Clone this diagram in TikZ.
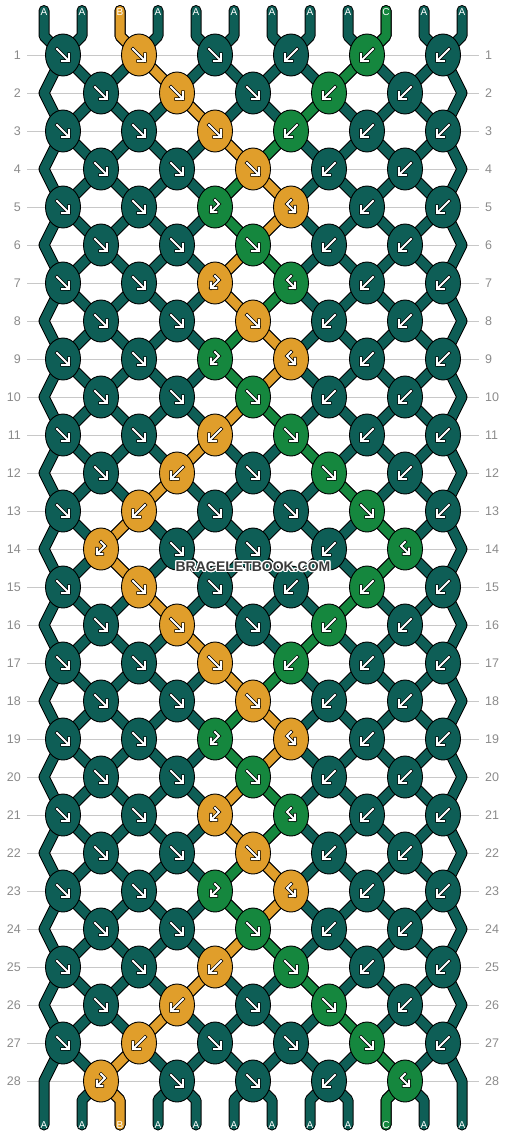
\documentclass[tikz,border=0pt]{standalone}
\usepackage{fontspec}
\setmainfont{Liberation Sans}
\usepackage{xcolor}
\usepackage{tikz}
\usepackage{contour}
\usetikzlibrary{shapes.geometric}
\contourlength{1.1pt}

\definecolor{colA}{HTML}{0E5E56}
\definecolor{colB}{HTML}{E09E2B}
\definecolor{colC}{HTML}{15873E}
\definecolor{rulegray}{HTML}{C8C8C8}
\definecolor{numgray}{HTML}{8A8A8A}
\definecolor{markgray}{HTML}{3A3A3A}

\tikzstyle{strand} = [draw=black, line width=1pt, double distance=9pt, line join=round, line cap=round]
\tikzstyle{knot} = [ellipse, draw=black, line width=0.9pt, minimum width=35pt, minimum height=42pt, inner sep=0pt]
\tikzstyle{glyph} = [draw=black, line width=0.65pt, double=white, double distance=1.9pt, line cap=rect, line join=miter]
\tikzstyle{rownum} = [text=numgray, font=\fontsize{12.5}{14}\selectfont, inner sep=0pt]
\tikzstyle{tag} = [text=white, font=\fontsize{10}{11}\selectfont, inner sep=0pt]
\tikzstyle{rowline} = [draw=rulegray, line width=1pt]

\tikzset{
  arr-f/.pic={\draw[glyph] (-6,-6) -- (5.5,5.5) (6,-1) -- (6,6) -- (-1,6);},
  arr-b/.pic={\draw[glyph] (6,-6) -- (-5.5,5.5) (-6,-1) -- (-6,6) -- (1,6);},
  arr-bf/.pic={\draw[glyph] (0,-7) -- (4,-3) -- (-4,5) (-4,-0.5) -- (-4,5) -- (1.5,5);},
  arr-fb/.pic={\draw[glyph] (0,-7) -- (-4,-3) -- (4,5) (4,-0.5) -- (4,5) -- (-1.5,5);}
}

\begin{document}
\begin{tikzpicture}[x=1pt,y=-1pt]
\useasboundingbox (0,0) rectangle (506,1136);

% knot places
\foreach \r in {1,3,...,27}
  \foreach \c in {1,...,6}
    \coordinate (k-\r-\c) at ({63+76*(\c-1)},{17+38*\r});
\foreach \r in {2,4,...,28} {
  \foreach \c in {1,...,5}
    \coordinate (k-\r-\c) at ({101+76*(\c-1)},{17+38*\r});
  \coordinate (eL-\r) at (44,{17+38*\r});
  \coordinate (eR-\r) at (462,{17+38*\r});
}
\foreach \i in {1,...,12} {
  \coordinate (t-\i) at ({6+38*\i},10.5);
  \coordinate (tb-\i) at ({6+38*\i},36);
  \coordinate (bb-\i) at ({6+38*\i},1100);
  \coordinate (b-\i) at ({6+38*\i},1125);
}

% row numbers
\foreach \r in {1,...,28} {
  \node[rownum, anchor=east] (ln-\r) at (21,{17+38*\r}) {\r};
  \node[rownum, anchor=west] (rn-\r) at (485,{17+38*\r}) {\r};
  \draw[rowline] ([xshift=6pt]ln-\r.east) -- ([xshift=-6pt]rn-\r.west);
}

% background strands
\draw[strand, double=colA]
  \foreach \c [evaluate=\c as \i using int(2*\c-1), evaluate=\c as \j using int(2*\c)] in {1,...,6} {
    (t-\i) -- (tb-\i) -- (k-1-\c) -- (tb-\j) -- (t-\j) }
  \foreach \r [evaluate=\r as \s using int(\r+1)] in {1,3,...,27} {
    \foreach \c [evaluate=\c as \d using int(\c+1)] in {1,...,5} {
      (k-\r-\c) -- (k-\s-\c) -- (k-\r-\d) } }
  \foreach \r [evaluate=\r as \s using int(\r+1)] in {2,4,...,26} {
    \foreach \c [evaluate=\c as \d using int(\c+1)] in {1,...,5} {
      (k-\s-\c) -- (k-\r-\c) -- (k-\s-\d) } }
  (k-1-1) \foreach \r [evaluate=\r as \s using int(\r+1)] in {2,4,...,26} { -- (eL-\r) -- (k-\s-1) } -- (eL-28) -- (b-1)
  (k-1-6) \foreach \r [evaluate=\r as \s using int(\r+1)] in {2,4,...,26} { -- (eR-\r) -- (k-\s-6) } -- (eR-28) -- (b-12)
  \foreach \c [evaluate=\c as \i using int(2*\c), evaluate=\c as \j using int(2*\c+1)] in {1,...,5} {
    (b-\i) -- (bb-\i) -- (k-28-\c) -- (bb-\j) -- (b-\j) };

% orange and green strands
\draw[strand, double=colB] (t-3) -- (tb-3)
  \foreach \r/\c in {1/2,2/2,3/3,4/3,5/4,6/3,7/3,8/3,9/4,10/3,11/3,12/2,13/2,14/1,
                     15/2,16/2,17/3,18/3,19/4,20/3,21/3,22/3,23/4,24/3,25/3,26/2,27/2,28/1} { -- (k-\r-\c) }
  -- (bb-3) -- (b-3);
\draw[strand, double=colC] (t-10) -- (tb-10)
  \foreach \r/\c in {1/5,2/4,3/4,4/3,5/3,6/3,7/4,8/3,9/3,10/3,11/4,12/4,13/5,14/5,
                     15/5,16/4,17/4,18/3,19/3,20/3,21/4,22/3,23/3,24/3,25/4,26/4,27/5,28/5} { -- (k-\r-\c) }
  -- (bb-10) -- (b-10);

% knots
\foreach \q in {0,14}
  \foreach \p/\spec in {
      1/{f/A,f/B,f/A,b/A,b/C,b/A},
      2/{f/A,f/B,f/A,b/C,b/A},
      3/{f/A,f/A,f/B,b/C,b/A,b/A},
      4/{f/A,f/A,f/B,b/A,b/A},
      5/{f/A,f/A,bf/C,fb/B,b/A,b/A},
      6/{f/A,f/A,f/C,b/A,b/A},
      7/{f/A,f/A,bf/B,fb/C,b/A,b/A},
      8/{f/A,f/A,f/B,b/A,b/A},
      9/{f/A,f/A,bf/C,fb/B,b/A,b/A},
      10/{f/A,f/A,f/C,b/A,b/A},
      11/{f/A,f/A,b/B,f/C,b/A,b/A},
      12/{f/A,b/B,f/A,f/C,b/A},
      13/{f/A,b/B,f/A,f/A,f/C,b/A},
      14/{bf/B,f/A,f/A,b/A,fb/C}} {
    \pgfmathtruncatemacro{\r}{\p+\q}
    \foreach \t/\k [count=\c] in \spec {
      \node[knot, fill=col\k] (n-\r-\c) at (k-\r-\c) {};
      \pic at (k-\r-\c) {arr-\t};
    }
  }

% strand letters
\foreach \i/\s in {1/A,2/A,3/B,4/A,5/A,6/A,7/A,8/A,9/A,10/C,11/A,12/A} {
  \node[tag] (top-\i) at ({6+38*\i},12.3) {\s};
  \node[tag] (bot-\i) at ({6+38*\i},1124.7) {\s};
}

\node[text=markgray, font=\bfseries\fontsize{14}{16}\selectfont] (mark) at (253,567) {\contour{white}{BRACELETBOOK.COM}};
\end{tikzpicture}
\end{document}
